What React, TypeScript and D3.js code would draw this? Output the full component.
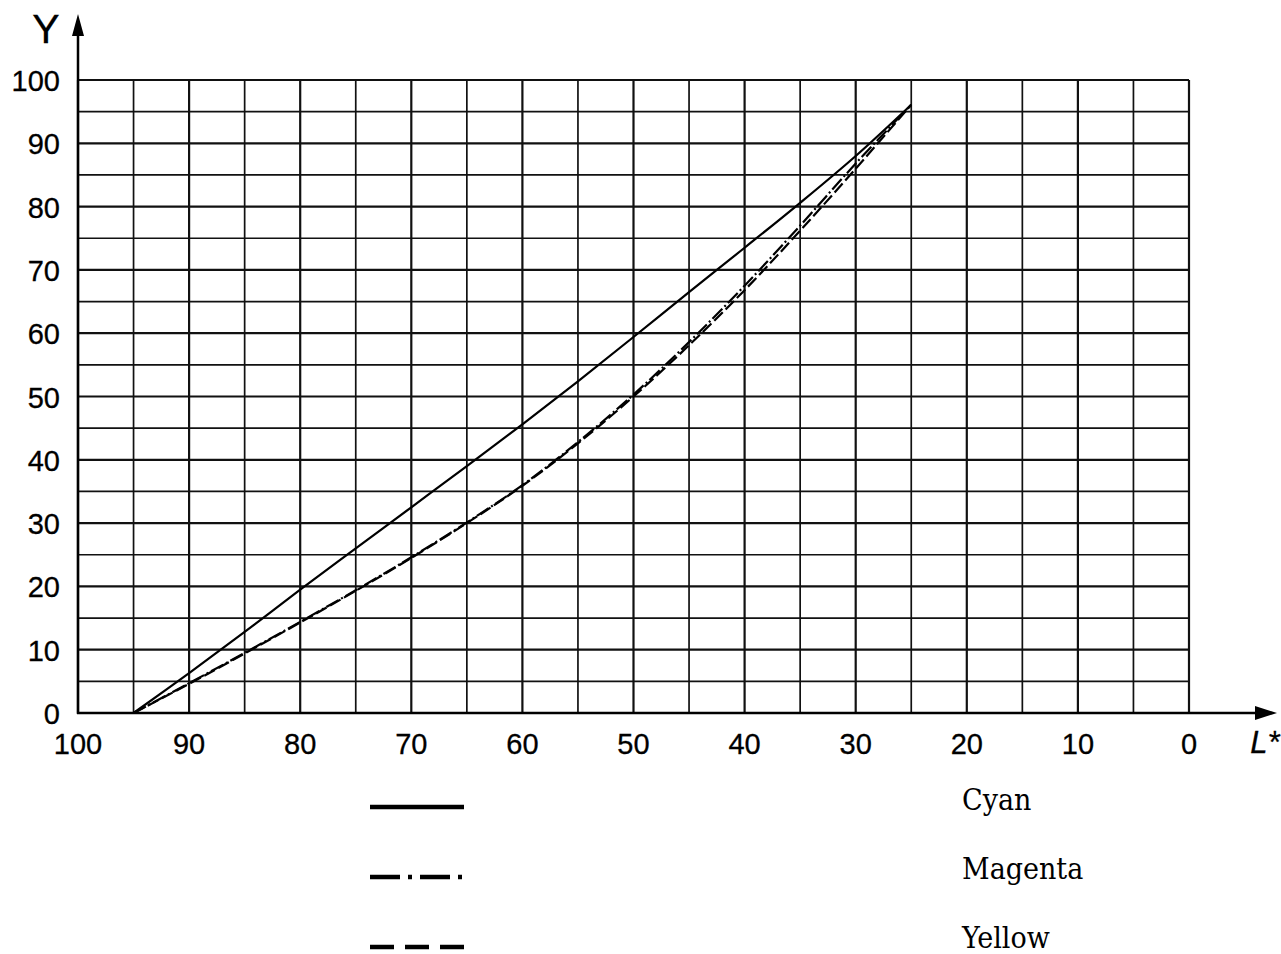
import React from 'react';
import * as d3 from 'd3';

// L* sample positions (shared by all three curves)
const lValues = [95, 90, 85, 80, 75, 70, 65, 60, 55, 50, 45, 40, 35, 30, 25];
const cyanY = [0, 6.3, 12.8, 19.5, 26.0, 32.5, 39.0, 45.6, 52.4, 59.4, 66.5, 73.5, 80.6, 88.0, 96.1];
const magentaY = [0, 4.7, 9.5, 14.4, 19.4, 24.6, 30.1, 36.0, 42.8, 50.3, 58.6, 67.5, 77.0, 86.8, 96.1];
const yellowY = [0, 4.6, 9.4, 14.3, 19.3, 24.5, 30.0, 35.9, 42.6, 50.0, 58.1, 66.8, 76.2, 86.0, 96.1];

const xTicks = [100, 90, 80, 70, 60, 50, 40, 30, 20, 10, 0];
const yTicks = [0, 10, 20, 30, 40, 50, 60, 70, 80, 90, 100];
const seriesNames = ['Cyan', 'Magenta', 'Yellow'];

const W = 1281;
const H = 954;

export default function App() {
  const x = d3.scaleLinear().domain([100, 0]).range([78, 1189]);
  const y = d3.scaleLinear().domain([0, 100]).range([713, 80]);

  const line = d3
    .line<[number, number]>()
    .x((d) => x(d[0]))
    .y((d) => y(d[1]))
    .curve(d3.curveCatmullRom);

  const series = [
    { name: seriesNames[0], values: cyanY, dash: undefined, legendDash: undefined },
    { name: seriesNames[1], values: magentaY, dash: '14 3 2 3', legendDash: '30 8 4 8' },
    { name: seriesNames[2], values: yellowY, dash: '12 4', legendDash: '24 11' },
  ];

  const gridX = d3.range(100, -1, -5);
  const gridY = d3.range(0, 101, 5);
  const axisY = y(0);

  return (
    <svg
      width={W}
      height={H}
      style={{ position: 'absolute', left: 0, top: 0, background: '#fff' }}
    >
      {/* grid */}
      <g stroke="#111">
        {gridX.map((v) => (
          <line
            key={'gx' + v}
            x1={x(v)}
            x2={x(v)}
            y1={y(0)}
            y2={y(100)}
            strokeWidth={v % 10 === 0 ? 2.2 : 1.7}
          />
        ))}
        {gridY.map((v) => (
          <line
            key={'gy' + v}
            x1={x(100)}
            x2={x(0)}
            y1={y(v)}
            y2={y(v)}
            strokeWidth={v % 10 === 0 ? 2.2 : 1.7}
          />
        ))}
      </g>

      {/* axes with arrows */}
      <line x1={x(100)} x2={x(100)} y1={axisY + 1} y2={30} stroke="#000" strokeWidth={2.5} />
      <path d={`M${x(100)},14 L${x(100) - 6},36 L${x(100) + 6},36 Z`} fill="#000" />
      <line x1={x(100) - 1} x2={1260} y1={axisY} y2={axisY} stroke="#000" strokeWidth={2.5} />
      <path d={`M1277,${axisY} L1255,${axisY - 7} L1255,${axisY + 7} Z`} fill="#000" />

      {/* tick labels */}
      <g
        fontFamily="Liberation Sans, Arial, sans-serif"
        fontSize={29}
        fill="#000"
        stroke="#000"
        strokeWidth={0.3}
      >
        {yTicks.map((v) => (
          <text key={'yt' + v} x={60} y={y(v) + 11} textAnchor="end">
            {v}
          </text>
        ))}
        {xTicks.map((v) => (
          <text key={'xt' + v} x={x(v)} y={754} textAnchor="middle">
            {v}
          </text>
        ))}
        <text x={46} y={43} fontSize={41} textAnchor="middle">
          Y
        </text>
        <text x={1265} y={753} fontSize={31} fontStyle="italic" textAnchor="middle">
          L*
        </text>
      </g>

      {/* curves */}
      <g fill="none" stroke="#000" strokeWidth={2.2}>
        {series.map((s) => (
          <path
            key={s.name}
            d={line(lValues.map((l, i) => [l, s.values[i]] as [number, number])) || ''}
            strokeDasharray={s.dash}
          />
        ))}
      </g>

      {/* legend */}
      <g>
        {series.map((s, i) => (
          <g key={'lg' + s.name}>
            <line
              x1={370}
              x2={464}
              y1={807 + i * 70}
              y2={807 + i * 70}
              stroke="#000"
              strokeWidth={4.5}
              strokeDasharray={s.legendDash}
            />
            <text
              x={962}
              y={810 + i * 69}
              fontFamily="DejaVu Serif Condensed, Liberation Serif, serif"
              fontSize={30}
              fill="#000"
            >
              {s.name}
            </text>
          </g>
        ))}
      </g>
    </svg>
  );
}
